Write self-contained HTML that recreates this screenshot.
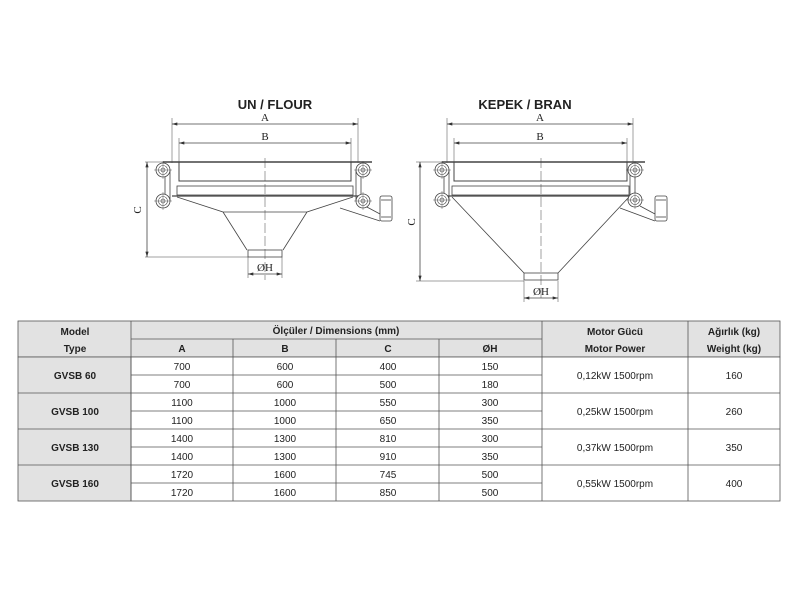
<!DOCTYPE html>
<html><head><meta charset="utf-8"><style>
html,body{margin:0;padding:0;background:#fff;width:800px;height:600px;overflow:hidden}
svg{display:block}
.t{font-family:"Liberation Sans",sans-serif;font-weight:bold;font-size:13px;fill:#222}
.s{font-family:"Liberation Serif",serif;font-size:11px;fill:#222}
.c{font-family:"Liberation Sans",sans-serif;font-size:10px;fill:#222;text-anchor:middle}
.b{font-weight:bold}
</style></head><body>
<svg width="800" height="600" viewBox="0 0 800 600" xmlns="http://www.w3.org/2000/svg">
<defs>
<marker id="ar" viewBox="0 0 10 6" refX="10" refY="3" markerWidth="8" markerHeight="4" orient="auto-start-reverse"><path d="M0,0L10,3L0,6z" fill="#333"/></marker>
<g id="ear"><circle r="7" fill="#fff" stroke="#444" stroke-width="0.8"/><circle r="4.5" fill="none" stroke="#444" stroke-width="0.6"/><circle r="2" fill="none" stroke="#444" stroke-width="0.6"/><line x1="-9" x2="9" stroke="#444" stroke-width="0.4"/><line y1="-9" y2="9" stroke="#444" stroke-width="0.4"/></g>
</defs>
<g stroke="#444" fill="none" stroke-width="0.8">
<!-- FLOUR -->
<line x1="172" y1="118" x2="172" y2="163" stroke-width="0.5"/><line x1="358" y1="118" x2="358" y2="163" stroke-width="0.5"/>
<line x1="179" y1="138" x2="179" y2="163" stroke-width="0.5"/><line x1="351" y1="138" x2="351" y2="163" stroke-width="0.5"/>
<line x1="172" y1="124" x2="358" y2="124" marker-start="url(#ar)" marker-end="url(#ar)"/>
<line x1="179" y1="143" x2="351" y2="143" marker-start="url(#ar)" marker-end="url(#ar)"/>
<line x1="163" y1="162" x2="372" y2="162" stroke-width="1.4"/>
<rect x="179" y="162" width="172" height="19" stroke-width="1"/>
<rect x="177" y="186" width="176" height="9"/>
<line x1="172" y1="196" x2="360" y2="196" stroke-width="1.2"/>
<rect x="165" y="170" width="5" height="31"/><rect x="356" y="170" width="5" height="31"/>
<path d="M177,197L223,212L247,250M353,197L307,212L283,250M223,212L307,212" />
<path d="M365,206L380,214M340,208L380,221"/>
<rect x="380" y="196" width="12" height="25" rx="2"/>
<line x1="381" y1="200" x2="391" y2="200"/><line x1="381" y1="217" x2="391" y2="217"/>
<rect x="248" y="250" width="34" height="7"/>
<line x1="265" y1="158" x2="265" y2="280" stroke-width="0.5" stroke-dasharray="10,3"/>
<line x1="145" y1="162" x2="163" y2="162" stroke-width="0.5"/>
<line x1="145" y1="257" x2="248" y2="257" stroke-width="0.5"/>
<line x1="147" y1="162" x2="147" y2="257" marker-start="url(#ar)" marker-end="url(#ar)"/>
<line x1="248" y1="257" x2="248" y2="278" stroke-width="0.5"/><line x1="282" y1="257" x2="282" y2="278" stroke-width="0.5"/>
<line x1="248" y1="274" x2="282" y2="274" marker-start="url(#ar)" marker-end="url(#ar)"/>
<!-- BRAN -->
<line x1="447" y1="118" x2="447" y2="163" stroke-width="0.5"/><line x1="633" y1="118" x2="633" y2="163" stroke-width="0.5"/>
<line x1="454" y1="138" x2="454" y2="163" stroke-width="0.5"/><line x1="627" y1="138" x2="627" y2="163" stroke-width="0.5"/>
<line x1="447" y1="124" x2="633" y2="124" marker-start="url(#ar)" marker-end="url(#ar)"/>
<line x1="454" y1="143" x2="627" y2="143" marker-start="url(#ar)" marker-end="url(#ar)"/>
<line x1="442" y1="162" x2="645" y2="162" stroke-width="1.4"/>
<rect x="454" y="162" width="173" height="19" stroke-width="1"/>
<rect x="452" y="186" width="177" height="9"/>
<line x1="447" y1="196" x2="633" y2="196" stroke-width="1.2"/>
<rect x="444" y="170" width="5" height="31"/><rect x="630" y="170" width="5" height="31"/>
<path d="M452,197L524,273M629,197L558,273"/>
<path d="M640,206L655,214M620,208L655,221"/>
<rect x="655" y="196" width="12" height="25" rx="2"/>
<line x1="656" y1="200" x2="666" y2="200"/><line x1="656" y1="217" x2="666" y2="217"/>
<rect x="524" y="273" width="34" height="7"/>
<line x1="541" y1="158" x2="541" y2="300" stroke-width="0.5" stroke-dasharray="10,3"/>
<line x1="416" y1="162" x2="442" y2="162" stroke-width="0.5"/>
<line x1="416" y1="281" x2="524" y2="281" stroke-width="0.5"/>
<line x1="420" y1="162" x2="420" y2="281" marker-start="url(#ar)" marker-end="url(#ar)"/>
<line x1="524" y1="281" x2="524" y2="302" stroke-width="0.5"/><line x1="558" y1="281" x2="558" y2="302" stroke-width="0.5"/>
<line x1="524" y1="298" x2="558" y2="298" marker-start="url(#ar)" marker-end="url(#ar)"/>
</g>
<use href="#ear" x="163" y="170"/><use href="#ear" x="163" y="201"/><use href="#ear" x="363" y="170"/><use href="#ear" x="363" y="201"/>
<use href="#ear" x="442" y="170"/><use href="#ear" x="442" y="200"/><use href="#ear" x="635" y="170"/><use href="#ear" x="635" y="200"/>
<text class="t" x="275" y="109" text-anchor="middle">UN / FLOUR</text>
<text class="t" x="525" y="109" text-anchor="middle">KEPEK / BRAN</text>
<text class="s" x="265" y="121" text-anchor="middle">A</text><text class="s" x="265" y="140" text-anchor="middle">B</text>
<text class="s" x="540" y="121" text-anchor="middle">A</text><text class="s" x="540" y="140" text-anchor="middle">B</text>
<text class="s" x="265" y="271" text-anchor="middle">ØH</text><text class="s" x="541" y="295" text-anchor="middle">ØH</text>
<text class="s" transform="translate(141,210) rotate(-90)" text-anchor="middle">C</text>
<text class="s" transform="translate(415,222) rotate(-90)" text-anchor="middle">C</text>
<!-- TABLE -->
<g stroke="#555" stroke-width="0.8">
<rect x="18" y="321" width="762" height="36" fill="#e2e2e2"/>
<rect x="18" y="357" width="113" height="144" fill="#e2e2e2"/>
<rect x="131" y="357" width="649" height="144" fill="#fff"/>
<line x1="131" y1="321" x2="131" y2="501"/>
<line x1="131" y1="339" x2="542" y2="339"/>
<line x1="233" y1="339" x2="233" y2="501"/><line x1="336" y1="339" x2="336" y2="501"/><line x1="439" y1="339" x2="439" y2="501"/>
<line x1="542" y1="321" x2="542" y2="501"/><line x1="688" y1="321" x2="688" y2="501"/>
<line x1="18" y1="393" x2="780" y2="393"/><line x1="18" y1="429" x2="780" y2="429"/><line x1="18" y1="465" x2="780" y2="465"/>
<line x1="131" y1="375" x2="542" y2="375"/><line x1="131" y1="411" x2="542" y2="411"/><line x1="131" y1="447" x2="542" y2="447"/><line x1="131" y1="483" x2="542" y2="483"/>
</g>
<g class="c">
<text class="c b" x="75" y="335">Model</text><text class="c b" x="75" y="352">Type</text>
<text class="c b" x="336" y="334">Ölçüler / Dimensions (mm)</text>
<text class="c b" x="182" y="352">A</text><text class="c b" x="285" y="352">B</text><text class="c b" x="388" y="352">C</text><text class="c b" x="490" y="352">ØH</text>
<text class="c b" x="615" y="335">Motor Gücü</text><text class="c b" x="615" y="352">Motor Power</text>
<text class="c b" x="734" y="335">Ağırlık (kg)</text><text class="c b" x="734" y="352">Weight (kg)</text>
<text class="c b" x="75" y="379">GVSB 60</text><text class="c b" x="75" y="415">GVSB 100</text><text class="c b" x="75" y="451">GVSB 130</text><text class="c b" x="75" y="487">GVSB 160</text>
<text x="182" y="370">700</text><text x="285" y="370">600</text><text x="388" y="370">400</text><text x="490" y="370">150</text>
<text x="182" y="388">700</text><text x="285" y="388">600</text><text x="388" y="388">500</text><text x="490" y="388">180</text>
<text x="182" y="406">1100</text><text x="285" y="406">1000</text><text x="388" y="406">550</text><text x="490" y="406">300</text>
<text x="182" y="424">1100</text><text x="285" y="424">1000</text><text x="388" y="424">650</text><text x="490" y="424">350</text>
<text x="182" y="442">1400</text><text x="285" y="442">1300</text><text x="388" y="442">810</text><text x="490" y="442">300</text>
<text x="182" y="460">1400</text><text x="285" y="460">1300</text><text x="388" y="460">910</text><text x="490" y="460">350</text>
<text x="182" y="478">1720</text><text x="285" y="478">1600</text><text x="388" y="478">745</text><text x="490" y="478">500</text>
<text x="182" y="496">1720</text><text x="285" y="496">1600</text><text x="388" y="496">850</text><text x="490" y="496">500</text>
<text x="615" y="379">0,12kW 1500rpm</text><text x="734" y="379">160</text>
<text x="615" y="415">0,25kW 1500rpm</text><text x="734" y="415">260</text>
<text x="615" y="451">0,37kW 1500rpm</text><text x="734" y="451">350</text>
<text x="615" y="487">0,55kW 1500rpm</text><text x="734" y="487">400</text>
</g>
</svg>
</body></html>
